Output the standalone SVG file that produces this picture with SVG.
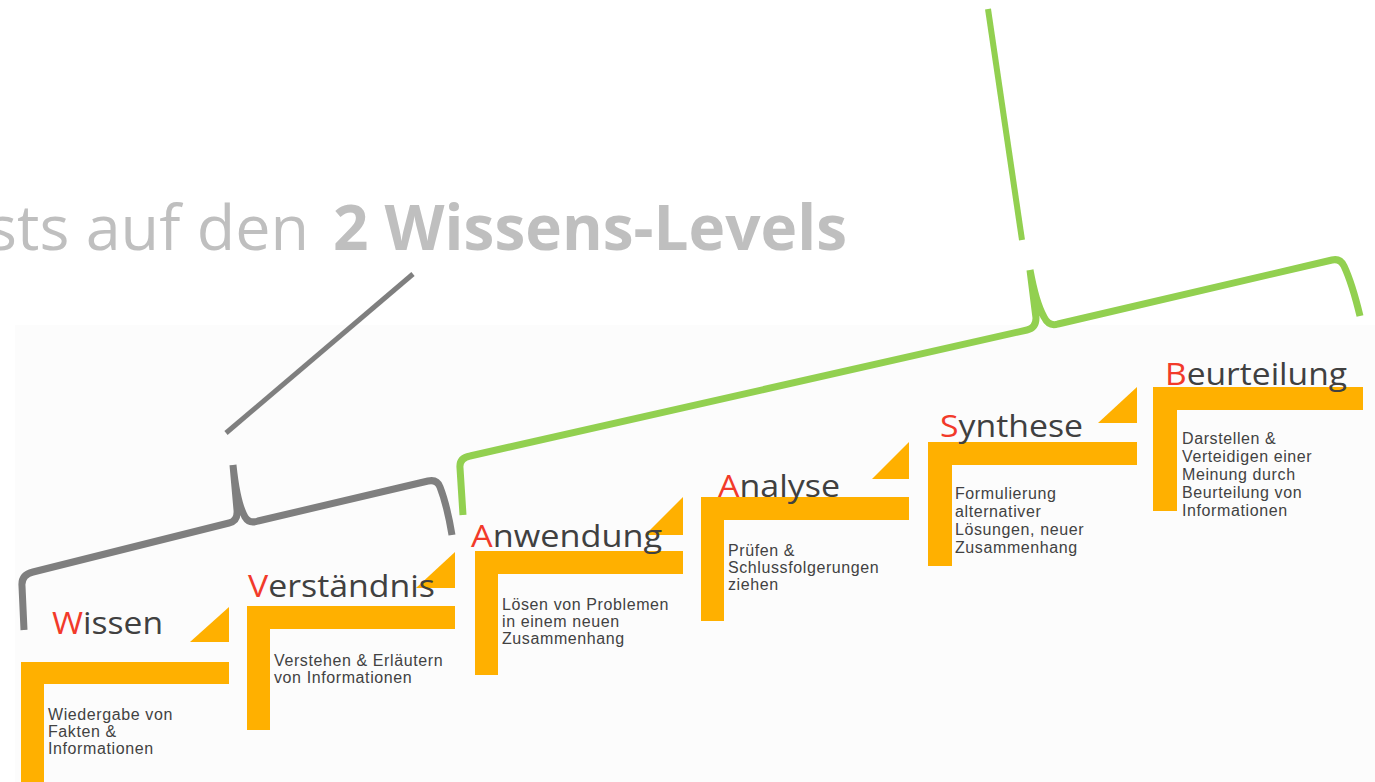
<svg xmlns="http://www.w3.org/2000/svg" width="1375" height="782" viewBox="0 0 1375 782">
<style>
.bar{fill:#ffb000}
.hd{font-family:"Open Sans","Liberation Sans",sans-serif;font-size:31px;fill:#404040}
.hd .r{fill:#f23a2a}
.ds{font-family:"Liberation Sans",Arial,sans-serif;font-size:16px;letter-spacing:0.6px;fill:#424242}
.title{font-family:"Open Sans","Liberation Sans",sans-serif;font-size:62px;fill:#bfbfbf}
.br{fill:none;stroke-linecap:butt;stroke-linejoin:round}
</style>
<rect x="0" y="0" width="1375" height="782" fill="#ffffff"/>
<rect x="15" y="325" width="1360" height="457" fill="#fcfcfc"/>

<g id="title">
<text class="title" x="-13" y="250" textLength="322" lengthAdjust="spacingAndGlyphs">sts auf den</text>
<text class="title" x="333" y="250" font-weight="bold" textLength="514" lengthAdjust="spacingAndGlyphs">2 Wissens-Levels</text>
</g>

<g id="step-wissen">
<path class="bar" d="M21,662 H229 V684 H44 V782 H21 Z"/>
<polygon class="bar" points="229,607 229,642 190,642"/>
<text class="hd" x="52" y="634" textLength="111" lengthAdjust="spacingAndGlyphs"><tspan class="r">W</tspan>issen</text>
<text class="ds" x="48" y="720">Wiedergabe von</text>
<text class="ds" x="48" y="737">Fakten &amp;</text>
<text class="ds" x="48" y="754">Informationen</text>
</g>

<g id="step-verstaendnis">
<path class="bar" d="M247,606 H455 V629 H270 V730 H247 Z"/>
<polygon class="bar" points="455,552 455,588 416,588"/>
<text class="hd" x="248" y="597" textLength="187" lengthAdjust="spacingAndGlyphs"><tspan class="r">V</tspan>erständnis</text>
<text class="ds" x="274" y="666">Verstehen &amp; Erläutern</text>
<text class="ds" x="274" y="683">von Informationen</text>
</g>

<g id="step-anwendung">
<path class="bar" d="M475,551 H683 V574 H498 V675 H475 Z"/>
<polygon class="bar" points="683,497 683,535 645,535"/>
<text class="hd" x="471" y="547" textLength="191" lengthAdjust="spacingAndGlyphs"><tspan class="r">A</tspan>nwendung</text>
<text class="ds" x="502" y="610">Lösen von Problemen</text>
<text class="ds" x="502" y="627">in einem neuen</text>
<text class="ds" x="502" y="644">Zusammenhang</text>
</g>

<g id="step-analyse">
<path class="bar" d="M701,497 H909 V520 H724 V621 H701 Z"/>
<polygon class="bar" points="909,442 909,479 872,479"/>
<text class="hd" x="718" y="497" textLength="122" lengthAdjust="spacingAndGlyphs"><tspan class="r">A</tspan>nalyse</text>
<text class="ds" x="728" y="556">Prüfen &amp;</text>
<text class="ds" x="728" y="573">Schlussfolgerungen</text>
<text class="ds" x="728" y="590">ziehen</text>
</g>

<g id="step-synthese">
<path class="bar" d="M928,442 H1137 V465 H952 V566 H928 Z"/>
<polygon class="bar" points="1137,387 1137,423 1098,423"/>
<text class="hd" x="940" y="437" textLength="143" lengthAdjust="spacingAndGlyphs"><tspan class="r">S</tspan>ynthese</text>
<text class="ds" x="955" y="499">Formulierung</text>
<text class="ds" x="955" y="517">alternativer</text>
<text class="ds" x="955" y="535">Lösungen, neuer</text>
<text class="ds" x="955" y="553">Zusammenhang</text>
</g>

<g id="step-beurteilung">
<path class="bar" d="M1153,387 H1363 V410 H1177 V511 H1153 Z"/>
<text class="hd" x="1165" y="385" textLength="182" lengthAdjust="spacingAndGlyphs"><tspan class="r">B</tspan>eurteilung</text>
<text class="ds" x="1182" y="444">Darstellen &amp;</text>
<text class="ds" x="1182" y="462">Verteidigen einer</text>
<text class="ds" x="1182" y="480">Meinung durch</text>
<text class="ds" x="1182" y="498">Beurteilung von</text>
<text class="ds" x="1182" y="516">Informationen</text>
</g>

<g id="connectors">
<line x1="413" y1="274" x2="226" y2="433" stroke="#7f7f7f" stroke-width="5"/>
<path class="br" stroke="#7f7f7f" stroke-width="7" d="M24,630 L22,586 Q21,575 33,572 L229,523 Q238,521 237,510 L233,465 M233,465 Q237,503 245,517 Q249,524 258,521 L428,481 Q437,479 440,487 Q447,505 452,535"/>
<line x1="988" y1="9" x2="1022" y2="240" stroke="#92d050" stroke-width="6"/>
<path class="br" stroke="#92d050" stroke-width="7" d="M463,515 L460,468 Q459,458 470,456 L1027,330 Q1036,328 1036,318 L1030,270 M1030,270 Q1036,303 1044,317 Q1049,327 1058,324 L1332,260 Q1340,258 1344,266 Q1352,283 1360,316"/>
</g>
</svg>
